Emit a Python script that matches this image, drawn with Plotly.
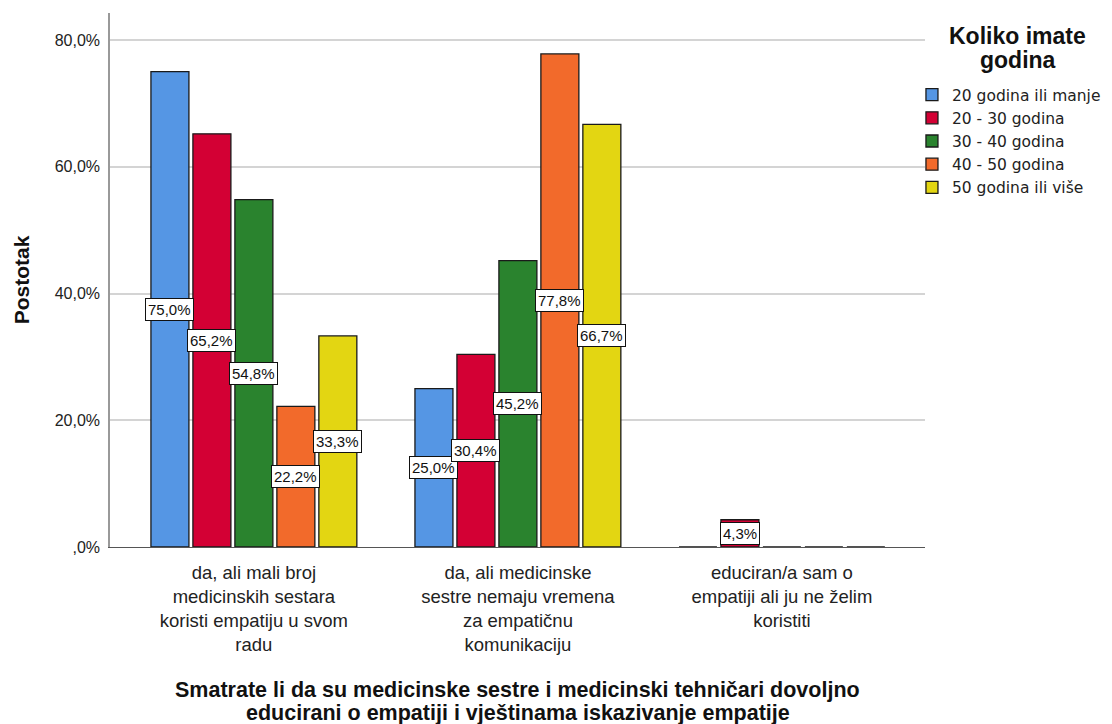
import plotly.graph_objects as go

categories = [
    "da, ali mali broj medicinskih sestara koristi empatiju u svom radu",
    "da, ali medicinske sestre nemaju vremena za empatičnu komunikaciju",
    "educiran/a sam o empatiji ali ju ne želim koristiti",
]
category_ticks = [
    "da, ali mali broj<br>medicinskih sestara<br>koristi empatiju u svom<br>radu",
    "da, ali medicinske<br>sestre nemaju vremena<br>za empatičnu<br>komunikaciju",
    "educiran/a sam o<br>empatiji ali ju ne želim<br>koristiti",
]
series_names = ["20 godina ili manje", "20 - 30 godina", "30 - 40 godina", "40 - 50 godina", "50 godina ili više"]
values = {
    "20 godina ili manje": [75.0, 25.0, 0.0],
    "20 - 30 godina": [65.2, 30.4, 4.3],
    "30 - 40 godina": [54.8, 45.2, 0.0],
    "40 - 50 godina": [22.2, 77.8, 0.0],
    "50 godina ili više": [33.3, 66.7, 0.0],
}
colors = ["#5596E4", "#D30034", "#2A832E", "#F26A2B", "#E3D612"]
y_tickvals = [0, 20, 40, 60, 80]
y_ticktext = [",0%", "20,0%", "40,0%", "60,0%", "80,0%"]
legend_title_lines = ["Koliko imate", "godina"]
x_title_lines = [
    "Smatrate li da su medicinske sestre i medicinski tehničari dovoljno",
    "educirani o empatiji i vještinama iskazivanje empatije",
]

bargap = 0.205
groupgap = 0.095
SANS = "Liberation Sans, Arial, sans-serif"

fig = go.Figure()
for name, col in zip(series_names, colors):
    fig.add_trace(go.Bar(
        x=categories, y=values[name], name=name,
        marker=dict(color=col, line=dict(color="#1a1a1a", width=1.3)),
    ))

# boxed value labels centred on each non-zero bar
gw = 1 - bargap
slot = gw / len(series_names)
for i, name in enumerate(series_names):
    for j, v in enumerate(values[name]):
        if v <= 0:
            continue
        xc = j - gw / 2 + slot * (i + 0.5)
        fig.add_annotation(
            x=xc, y=v / 2, xref="x", yref="y",
            text=f"{v:.1f}%".replace(".", ","), showarrow=False,
            font=dict(family=SANS, size=15, color="#111"),
            bgcolor="white", bordercolor="#111", borderwidth=1, borderpad=2,
        )

# x-axis title (two lines, tight spacing)
for line, yy in zip(x_title_lines, [-0.267, -0.310]):
    fig.add_annotation(
        x=0.5, y=yy, xref="paper", yref="paper", yanchor="middle",
        text=f"<b>{line}</b>", showarrow=False,
        font=dict(family=SANS, size=21.5, color="#111"),
    )

# legend title
for line, yy in zip(legend_title_lines, [0.957, 0.912]):
    fig.add_annotation(
        x=1.114, y=yy, xref="paper", yref="paper", xanchor="center", yanchor="middle",
        text=f"<b>{line}</b>", showarrow=False,
        font=dict(family=SANS, size=23, color="#111"),
    )

# page body has an 8px margin: figure is 1104x716 placed at (8, 8)
fig.update_layout(
    width=1104, height=716,
    margin=dict(l=102, r=187, t=5, b=177, autoexpand=False),
    paper_bgcolor="white", plot_bgcolor="white",
    barmode="group", bargap=bargap, bargroupgap=groupgap,
    font=dict(family=SANS, color="#222"),
    legend=dict(
        x=0.984, y=0.878, xanchor="left", yanchor="top",
        bgcolor="rgba(0,0,0,0)",
        font=dict(family="DejaVu Sans, Verdana, sans-serif", size=15.5, color="#222"),
        tracegroupgap=0, itemwidth=30,
    ),
    showlegend=True,
)
fig.update_xaxes(
    range=[-0.545, 2.542], tickvals=[0, 1, 2], ticktext=category_ticks,
    tickfont=dict(size=18.5, color="#222"), showline=True, linecolor="#555",
    linewidth=1, showgrid=False, ticks="outside", ticklen=9,
    tickcolor="rgba(0,0,0,0)",
)
fig.update_yaxes(
    range=[0, 84.26], tickvals=y_tickvals, ticktext=y_ticktext,
    tickfont=dict(size=16, color="#222"), showgrid=True, gridcolor="#d4d4d4",
    gridwidth=1.5, showline=True, linecolor="#999", linewidth=1.5, zeroline=False,
    ticks="outside", ticklen=5, tickcolor="rgba(0,0,0,0)",
    title=dict(text="<b>Postotak</b>", font=dict(size=21, color="#111"), standoff=19),
)

fig.write_html("out.html")
